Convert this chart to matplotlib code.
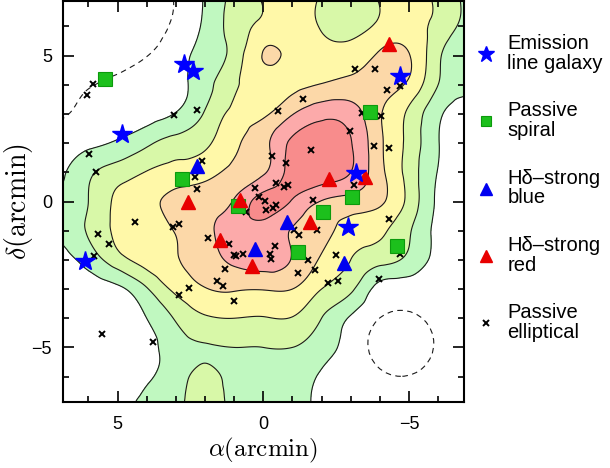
import numpy as np
import matplotlib

matplotlib.use("Agg")
import matplotlib.pyplot as plt
import matplotlib.tri as mtri
from matplotlib.patches import Circle

plt.rcParams["mathtext.fontset"] = "cm"
plt.rcParams["font.family"] = ["Liberation Sans", "DejaVu Sans"]

# smoothed galaxy density, read on a 1 arcmin grid (x from 7 to -7, y from 7 to -7)
GRID_X = np.arange(7, -8, -1)
GRID_Y = np.arange(7, -8, -1)
DENSITY = np.array([
    [-0.6, -0.5, -0.3, -0.1, 0.05, 1.1, 2.3, 3.1, 3.5, 2.9, 2.5, 3.1, 3.4, 2.8, 1.7],
    [-0.6, -0.5, -0.35, -0.2, 0.15, 1.2, 2.4, 3.3, 3.6, 2.9, 2.6, 3.2, 3.4, 2.7, 1.6],
    [-0.7, -0.5, -0.3, -0.02, 0.55, 1.4, 2.4, 4.04, 3.7, 3.4, 3.5, 4.15, 4.05, 2.2, 1.0],
    [-0.5, -0.05, 0.15, 0.4, 0.75, 1.6, 2.85, 3.4, 3.7, 4.05, 4.3, 4.3, 3.8, 2.0, 1.2],
    [-0.1, 0.15, 0.35, 0.6, 1.05, 2.1, 3.25, 3.8, 4.95, 5.7, 5.5, 4.1, 2.8, 1.2, 0.5],
    [0.45, 0.75, 1.15, 1.8, 2.4, 2.8, 3.8, 4.7, 6.2, 6.5, 6.05, 4.2, 2.7, 1.05, 0.4],
    [0.7, 1.8, 2.5, 3.05, 3.4, 3.7, 4.2, 4.85, 6.4, 6.6, 6.0, 4.3, 2.6, 0.95, 0.3],
    [1.25, 2.0, 3.2, 3.7, 4.3, 4.5, 5.1, 6.35, 5.9, 4.95, 4.6, 4.15, 2.7, 0.8, 0.2],
    [1.25, 2.1, 3.2, 3.6, 4.05, 4.7, 5.5, 5.6, 4.95, 4.3, 3.6, 3.2, 2.1, 0.7, 0.2],
    [0.5, 1.4, 2.6, 3.4, 3.95, 4.5, 5.2, 5.4, 4.95, 3.85, 3.0, 2.35, 1.75, 0.6, 0.2],
    [0.3, 0.5, 0.8, 1.9, 3.25, 3.95, 4.1, 4.05, 4.0, 3.0, 2.2, 0.6, 0.4, 0.25, 0.15],
    [0.3, 0.35, 0.6, 1.0, 2.1, 2.85, 3.0, 2.95, 2.95, 2.0, 0.9, 0.3, 0.2, 0.2, 0.2],
    [0.3, 0.3, 0.35, 0.6, 1.6, 1.95, 2.0, 2.0, 2.0, 1.4, 0.7, 0.3, 0.25, 0.2, 0.2],
    [0.3, 0.3, 0.4, 0.85, 1.6, 2.2, 1.7, 1.5, 1.4, 0.9, 0.5, 0.3, 0.25, 0.2, 0.2],
    [0.3, 0.35, 0.6, 1.3, 1.8, 2.3, 1.8, 1.5, 1.3, 0.8, 0.4, 0.3, 0.3, 0.2, 0.2],
])
FILL_LEVELS = [1, 2, 3, 4, 5, 6, 100]
LINE_LEVELS = [1, 2, 3, 4, 5, 6]
LOW_LEVEL = [0]
BAND_COLOURS = ["#c0f8c0", "#d8f8a8", "#fff8a8", "#fcd8a8", "#fcaaaa", "#f88c8c"]

# smoothing kernel
KERNEL_X, KERNEL_Y, KERNEL_R = -4.72, -4.86, 1.13

EMISSION_X = [2.71, 2.40, 4.85, 6.12, -3.17, -2.92, -4.69]
EMISSION_Y = [4.72, 4.46, 2.32, -2.05, 0.97, -0.87, 4.31]

SPIRAL_X = [5.42, 2.79, 0.87, -2.04, -1.18, -3.03, -3.65, -4.60]
SPIRAL_Y = [4.21, 0.78, -0.16, -0.37, -1.74, 0.16, 3.08, -1.54]

HD_BLUE_X = [2.28, -0.81, 0.27, -2.76]
HD_BLUE_Y = [1.21, -0.71, -1.62, -2.12]

HD_RED_X = [2.57, 0.79, 1.48, 0.40, -1.60, -2.26, -3.50, -4.32]
HD_RED_Y = [-0.01, 0.04, -1.33, -2.20, -0.70, 0.77, 0.83, 5.41]

ELLIPTICAL_X = [5.84, 6.05, 3.06, 2.26, 5.97, 5.75, 2.10, 2.34, 2.26, 4.39,
                5.68, 5.30, 5.79, 3.08, 2.89, 1.89, 1.16, 1.02, 0.93, 0.68,
                1.31, 1.59, 1.39, 2.54, 2.88, 1.00, 5.53, 3.79, 0.59, 0.27,
                0.16, -0.05, -0.10, -0.33, -0.43, -0.30, -0.77, -1.63, -0.43, -0.72,
                -0.84, -1.70, -1.07, -1.24, -1.86, -0.40, -0.23, -0.26, -1.53, -1.20,
                -1.79, -2.49, -2.23, -2.58, -3.96, -4.70, -4.32, -3.12, -2.97, -3.80,
                -4.30, -3.40, -4.05, -1.36, -0.51, -3.15, -3.85, -4.26, -4.70]
ELLIPTICAL_Y = [4.03, 3.66, 2.97, 3.14, 1.63, 1.01, 1.39, 0.84, 0.42, -0.71,
                -1.12, -1.44, -1.88, -0.87, -0.76, -1.26, -1.45, -1.82, -1.88, -1.80,
                -2.30, -2.74, -2.91, -2.97, -3.21, -3.41, -4.54, -4.82, -0.35, 0.47,
                0.17, 0.01, -0.28, -0.21, -0.11, 1.57, 1.33, 1.75, 0.63, 0.50,
                0.58, 0.06, -0.99, -1.14, -0.96, -1.53, -1.81, -1.98, -2.00, -2.44,
                -2.35, -1.85, -2.79, -2.74, -2.65, -1.79, -0.61, 0.58, 2.42, 1.91,
                1.82, 3.03, 2.93, 3.51, 3.10, 4.53, 4.53, 3.83, 3.97]

LIMIT = 6.87

fig = plt.figure(figsize=(6.1, 4.68), dpi=100)
ax = fig.add_axes([63 / 610, 66 / 468, 400.5 / 610, 401 / 468])

gx, gy = np.meshgrid(GRID_X.astype(float), GRID_Y.astype(float))
tri = mtri.Triangulation(gx.ravel(), gy.ravel())
refiner = mtri.UniformTriRefiner(tri)
tri_fine, z_fine = refiner.refine_field(DENSITY.ravel(), subdiv=4)

ax.tricontourf(tri_fine, z_fine, levels=FILL_LEVELS, colors=BAND_COLOURS, zorder=1)
ax.tricontour(tri_fine, z_fine, levels=LINE_LEVELS, colors="#1a1a1a",
              linewidths=0.8, zorder=2)
ax.tricontour(tri_fine, z_fine, levels=LOW_LEVEL, colors="#1a1a1a",
              linewidths=0.8, linestyles=[(0, (5, 4))], zorder=2)
ax.add_patch(Circle((KERNEL_X, KERNEL_Y), KERNEL_R, fill=False, edgecolor="#1a1a1a",
                    linewidth=0.8, linestyle=(0, (5, 4)), zorder=2))

ax.plot(ELLIPTICAL_X, ELLIPTICAL_Y, "x", color="black", ms=4.5, mew=1.4,
        ls="none", zorder=3, label="Passive\nelliptical")
ax.plot(SPIRAL_X, SPIRAL_Y, "s", mfc="#1cc01c", mec="#0c9a0c", ms=9.5, mew=0.8,
        ls="none", zorder=4, label="Passive\nspiral")
ax.plot(HD_BLUE_X, HD_BLUE_Y, "^", color="#0000f0", ms=10, ls="none", zorder=5,
        label="H\u03b4\u2013strong\nblue")
ax.plot(HD_RED_X, HD_RED_Y, "^", color="#e80000", ms=10, ls="none", zorder=5,
        label="H\u03b4\u2013strong\nred")
ax.plot(EMISSION_X, EMISSION_Y, "*", color="#0000ff", ms=15, ls="none", zorder=6,
        label="Emission\nline galaxy")

ax.set_xlim(LIMIT, -LIMIT)
ax.set_ylim(-LIMIT, LIMIT)
ax.set_xticks([5, 0, -5])
ax.set_yticks([-5, 0, 5])
ax.set_xticks(np.arange(-6, 7), minor=True)
ax.set_yticks(np.arange(-6, 7), minor=True)
ax.tick_params(which="both", direction="in", top=True, right=True, width=1.2,
               labelsize=13)
ax.tick_params(axis="x", pad=10)
ax.tick_params(axis="y", pad=8)
ax.tick_params(which="major", length=8)
ax.tick_params(which="minor", length=4.5)
for spine in ax.spines.values():
    spine.set_linewidth(1.5)

ax.set_xlabel(r"$\alpha(\mathrm{arcmin})$", fontsize=18)
ax.set_ylabel(r"$\delta(\mathrm{arcmin})$", fontsize=20)
ax.xaxis.set_label_coords(0.5, -0.085)
ax.yaxis.set_label_coords(-0.07, 0.5)

handles, labels = ax.get_legend_handles_labels()
order = [4, 1, 2, 3, 0]
legend = ax.legend([handles[i] for i in order], [labels[i] for i in order],
                   loc="upper left", bbox_to_anchor=(477 / 610, 1 - 34 / 468),
                   bbox_transform=fig.transFigure, frameon=False, fontsize=14.5,
                   handlelength=0.9, handletextpad=0.6, labelspacing=1.42,
                   borderpad=0, borderaxespad=0)
for handle, size in zip(legend.legend_handles, [12, 7.5, 9, 9, 4.5]):
    handle.set_markersize(size)
for text in legend.get_texts():
    text.set_linespacing(1.05)

fig.savefig("out.png", dpi=100)
